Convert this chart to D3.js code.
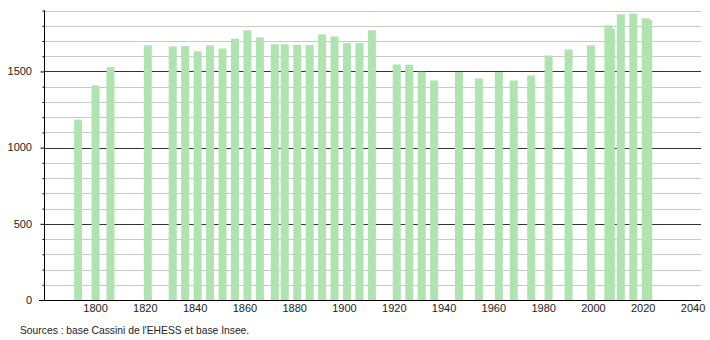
<!DOCTYPE html>
<html>
<head>
<meta charset="utf-8">
<script src="https://cdn.jsdelivr.net/npm/d3@7"></script>
<style>
  body { margin: 0; background: #fff; }
  svg text { font-family: "Liberation Sans", Arial, sans-serif; fill: #222; }
</style>
</head>
<body>
<div id="chart"></div>
<script>
// census years and population
var years = [1793, 1800, 1806, 1821, 1831, 1836, 1841, 1846, 1851, 1856,
             1861, 1866, 1872, 1876, 1881, 1886, 1891, 1896, 1901, 1906,
             1911, 1921, 1926, 1931, 1936, 1946, 1954, 1962, 1968, 1975,
             1982, 1990, 1999, 2006, 2007, 2011, 2016, 2021, 2022];
var population = [1184, 1408, 1528, 1671, 1664, 1667, 1632, 1671, 1651, 1715,
                  1770, 1724, 1678, 1678, 1675, 1673, 1743, 1730, 1686, 1686,
                  1770, 1546, 1544, 1498, 1441, 1496, 1454, 1496, 1441, 1474,
                  1605, 1645, 1671, 1803, 1781, 1875, 1880, 1849, 1836];
var yMajor = [0, 500, 1000, 1500];
var xTicks = [1800, 1820, 1840, 1860, 1880, 1900, 1920, 1940, 1960, 1980, 2000, 2020, 2040];
var source = "Sources : base Cassini de l'EHESS et base Insee.";

var width = 710, height = 340;
var plotLeft = 44, plotRight = 701, plotTop = 10.5, plotBottom = 300;

var svg = d3.select("#chart").append("svg")
    .attr("width", width)
    .attr("height", height);

var x = d3.scaleLinear().domain([1779.3, 2043.2]).range([plotLeft, plotRight]);
var y = d3.scaleLinear().domain([0, 1900]).range([plotBottom, plotTop]);

// grid lines, every 100 light, every 500 dark
var gridVals = d3.range(100, 1901, 100);
svg.append("g")
    .selectAll("line")
    .data(gridVals)
    .enter().append("line")
    .attr("x1", plotLeft)
    .attr("x2", plotRight)
    .attr("y1", function(d) { return Math.round(y(d)) + 0.5; })
    .attr("y2", function(d) { return Math.round(y(d)) + 0.5; })
    .style("stroke", function(d) { return d % 500 == 0 ? "#333" : "#c8c8c8"; })
    .style("stroke-width", 1);

// bars (drawn last year first so overlapping pairs look right)
var data = years.map(function(d, i) { return {year: d, value: population[i]}; });
var barW = 8;
svg.append("g")
    .selectAll("rect")
    .data(data.slice().reverse())
    .enter().append("rect")
    .attr("x", function(d) { return x(d.year) - barW / 2; })
    .attr("width", barW)
    .attr("y", function(d) { return y(d.value); })
    .attr("height", function(d) { return plotBottom - y(d.value); })
    .style("fill", "#afe4b0");

// y axis
var yAxis = d3.axisLeft(y)
    .tickValues(gridVals.concat([0]))
    .tickSize(2)
    .tickFormat("");
var yg = svg.append("g")
    .attr("transform", "translate(" + (plotLeft + 0.5) + ",0)")
    .call(yAxis);
yg.select(".domain").remove();
yg.selectAll(".tick line")
    .attr("x2", function(d) { return d % 500 == 0 ? -4 : -2; })
    .style("stroke", "#000");

svg.append("line")
    .attr("x1", plotLeft + 0.5).attr("x2", plotLeft + 0.5)
    .attr("y1", plotTop).attr("y2", plotBottom)
    .style("stroke", "#000");

svg.append("g")
    .selectAll("text")
    .data(yMajor)
    .enter().append("text")
    .attr("x", 32)
    .attr("y", function(d) { return y(d); })
    .attr("dy", "0.35em")
    .attr("text-anchor", "end")
    .style("font-size", "11px")
    .text(function(d) { return d; });

// x axis
svg.append("line")
    .attr("x1", 39).attr("x2", plotRight)
    .attr("y1", plotBottom + 0.5).attr("y2", plotBottom + 0.5)
    .style("stroke", "#000");

svg.append("g")
    .selectAll("text")
    .data(xTicks)
    .enter().append("text")
    .attr("x", function(d) { return x(d); })
    .attr("y", 312)
    .attr("text-anchor", "middle")
    .style("font-size", "11px")
    .text(function(d) { return d; });

svg.append("text")
    .attr("x", 20)
    .attr("y", 334)
    .style("font-size", "10.3px")
    .text(source);
</script>
</body>
</html>
